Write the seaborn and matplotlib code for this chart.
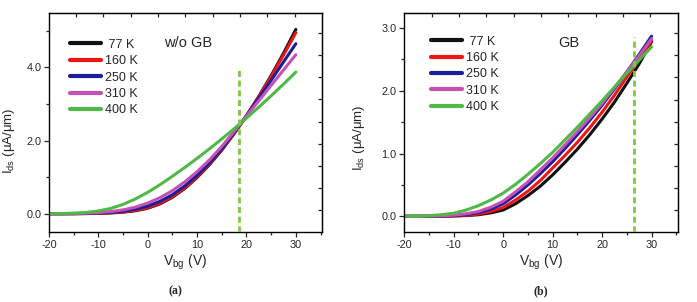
import numpy as np
import pandas as pd
import seaborn as sns
import matplotlib.pyplot as plt
from matplotlib.ticker import MultipleLocator, FormatStrFormatter

# gate voltage grid (V)
vbg = [-20, -17.5, -15, -12.5, -10, -7.5, -5, -2.5, 0, 2.5, 5, 7.5,
       10, 12.5, 15, 17.5, 20, 22.5, 25, 27.5, 30]
temps = [' 77 K', '160 K', '250 K', '310 K', '400 K']
colors = ['#111111', '#ee1515', '#1c1c9c', '#c452b6', '#4fb947']

# (a) w/o GB, Ids in uA/um
ids_a_77 = [0, 0, 0.001, 0.004, 0.01, 0.022, 0.042, 0.08, 0.15, 0.27, 0.45, 0.69,
            0.99, 1.34, 1.74, 2.19, 2.68, 3.21, 3.78, 4.39, 5.04]
ids_a_160 = [0, 0, 0.001, 0.005, 0.012, 0.026, 0.05, 0.092, 0.165, 0.29, 0.47, 0.71,
             1.01, 1.36, 1.76, 2.2, 2.68, 3.2, 3.75, 4.34, 4.95]
ids_a_250 = [0, 0.001, 0.003, 0.008, 0.018, 0.037, 0.07, 0.125, 0.21, 0.34, 0.52, 0.76,
             1.05, 1.39, 1.78, 2.22, 2.68, 3.16, 3.65, 4.15, 4.65]
ids_a_310 = [0, 0.002, 0.006, 0.015, 0.03, 0.058, 0.105, 0.18, 0.29, 0.44, 0.63, 0.87,
             1.15, 1.47, 1.84, 2.25, 2.67, 3.09, 3.51, 3.93, 4.35]
ids_a_400 = [0, 0.005, 0.015, 0.035, 0.075, 0.145, 0.255, 0.405, 0.585, 0.795, 1.025, 1.265,
             1.515, 1.775, 2.045, 2.325, 2.615, 2.915, 3.225, 3.545, 3.875]

# (b) GB
ids_b_77 = [0, 0, 0, 0.002, 0.005, 0.011, 0.025, 0.055, 0.1, 0.2, 0.33, 0.48,
            0.66, 0.86, 1.07, 1.3, 1.55, 1.82, 2.12, 2.43, 2.78]
ids_b_160 = [0, 0, 0.001, 0.003, 0.007, 0.016, 0.036, 0.077, 0.14, 0.26, 0.4, 0.57,
             0.77, 0.97, 1.18, 1.41, 1.66, 1.93, 2.22, 2.5, 2.8]
ids_b_250 = [0, 0, 0.002, 0.005, 0.012, 0.028, 0.058, 0.115, 0.2, 0.34, 0.5, 0.68,
             0.87, 1.08, 1.3, 1.53, 1.77, 2.03, 2.3, 2.58, 2.87]
ids_b_310 = [0, 0.001, 0.003, 0.008, 0.018, 0.04, 0.077, 0.145, 0.24, 0.39, 0.55, 0.74,
             0.93, 1.14, 1.35, 1.57, 1.8, 2.05, 2.3, 2.56, 2.83]
ids_b_400 = [0, 0.003, 0.01, 0.025, 0.05, 0.1, 0.17, 0.26, 0.37, 0.51, 0.67, 0.84,
             1.02, 1.22, 1.42, 1.63, 1.84, 2.06, 2.28, 2.49, 2.7]

# crossover gate voltage marked with dashed line
cross_a, cross_a_top = 18.5, 4.0
cross_b, cross_b_top = 26.5, 2.86


def long_df(curves):
    frames = []
    for t, vals in zip(temps, curves):
        frames.append(pd.DataFrame({'Vbg': vbg, 'Ids': vals, 'T': t}))
    return pd.concat(frames, ignore_index=True)


df_a = long_df([ids_a_77, ids_a_160, ids_a_250, ids_a_310, ids_a_400])
df_b = long_df([ids_b_77, ids_b_160, ids_b_250, ids_b_310, ids_b_400])

sns.set_style('ticks')
plt.rcParams['font.family'] = ['Liberation Sans', 'DejaVu Sans']
plt.rcParams['mathtext.fontset'] = 'custom'
plt.rcParams['mathtext.rm'] = 'Liberation Sans'
plt.rcParams['mathtext.it'] = 'Liberation Sans'
plt.rcParams['axes.unicode_minus'] = False

fig = plt.figure(figsize=(6.97, 3.02), dpi=100)
ax_a = fig.add_axes([0.0703, 0.2308, 0.3917, 0.7262])
ax_b = fig.add_axes([0.5801, 0.2308, 0.3923, 0.7262])

panels = [
    (ax_a, df_a, (-0.508, 5.49), 2.0, 1.0, cross_a, cross_a_top, 'w/o GB', 0.511,
     -0.117, 0.416, 0.077, 0.605, 0.905),
    (ax_b, df_b, (-0.255, 3.24), 1.0, 0.5, cross_b, cross_b_top, 'GB', 0.60,
     -0.136, 0.429, 0.10, 0.352, 0.92),
]

for (ax, df, ylim, ymaj, ymin, xc, xc_top, tag, tag_x, ylab_x, ylab_y,
     leg_x, rstep, leg_y) in panels:
    sns.lineplot(data=df, x='Vbg', y='Ids', hue='T', hue_order=temps,
                 palette=colors, linewidth=2.2, errorbar=None, sort=False, ax=ax)
    ax.vlines(xc, ylim[0], xc_top, colors='#80c843', linewidth=2.0,
              linestyles=(0, (2.2, 1.3)), zorder=5)
    ax.set_xlim(-20, 35.3)
    ax.set_ylim(*ylim)
    ax.xaxis.set_major_locator(MultipleLocator(10))
    ax.xaxis.set_minor_locator(MultipleLocator(5))
    ax.yaxis.set_major_locator(MultipleLocator(ymaj))
    ax.yaxis.set_minor_locator(MultipleLocator(ymin))
    ax.yaxis.set_major_formatter(FormatStrFormatter('%.1f'))
    ax.tick_params(which='major', direction='out', length=3.5, width=0.9,
                   labelsize=7.8, pad=2, top=False, right=False)
    ax.tick_params(which='minor', direction='out', length=2.5, width=0.9,
                   top=False, right=False)
    for s in ax.spines.values():
        s.set_visible(True)
        s.set_linewidth(1.0)
        s.set_color('black')

    # top / right frame ticks (own spacing, inward)
    top_ticks = np.arange(-14.5, 35, 5.53)
    secx = ax.secondary_xaxis('top')
    secx.set_xticks(top_ticks)
    secx.tick_params(direction='in', length=3, width=0.9, labeltop=False)
    right_ticks = np.arange(0.1, ylim[1], rstep)
    secy = ax.secondary_yaxis('right')
    secy.set_yticks(right_ticks)
    secy.tick_params(direction='in', length=3, width=0.9, labelright=False)

    ax.set_xlabel(r'V$_{\mathrm{bg}}$ (V)', fontsize=10)
    ax.set_ylabel(r'I$_{\mathrm{ds}}$ ($\mu$A/$\mu$m)', fontsize=9.5)
    ax.xaxis.set_label_coords(0.5, -0.095)
    ax.yaxis.set_label_coords(ylab_x, ylab_y)

    leg = ax.legend(loc='upper left', bbox_to_anchor=(leg_x - 0.02, leg_y),
                    frameon=False, fontsize=9, handlelength=2.5,
                    handletextpad=0.3, labelspacing=0.35, borderaxespad=0.0)
    for ln in leg.get_lines():
        ln.set_linewidth(3.0)
    ax.text(tag_x, 0.863, tag, transform=ax.transAxes, fontsize=10.5,
            ha='center', va='center')

fig.text(0.252, 0.035, '(a)', fontsize=8.5, fontweight='bold',
         family='Liberation Serif', ha='center', va='center')
fig.text(0.776, 0.035, '(b)', fontsize=8.5, fontweight='bold',
         family='Liberation Serif', ha='center', va='center')

fig.savefig('out.png', dpi=100)
